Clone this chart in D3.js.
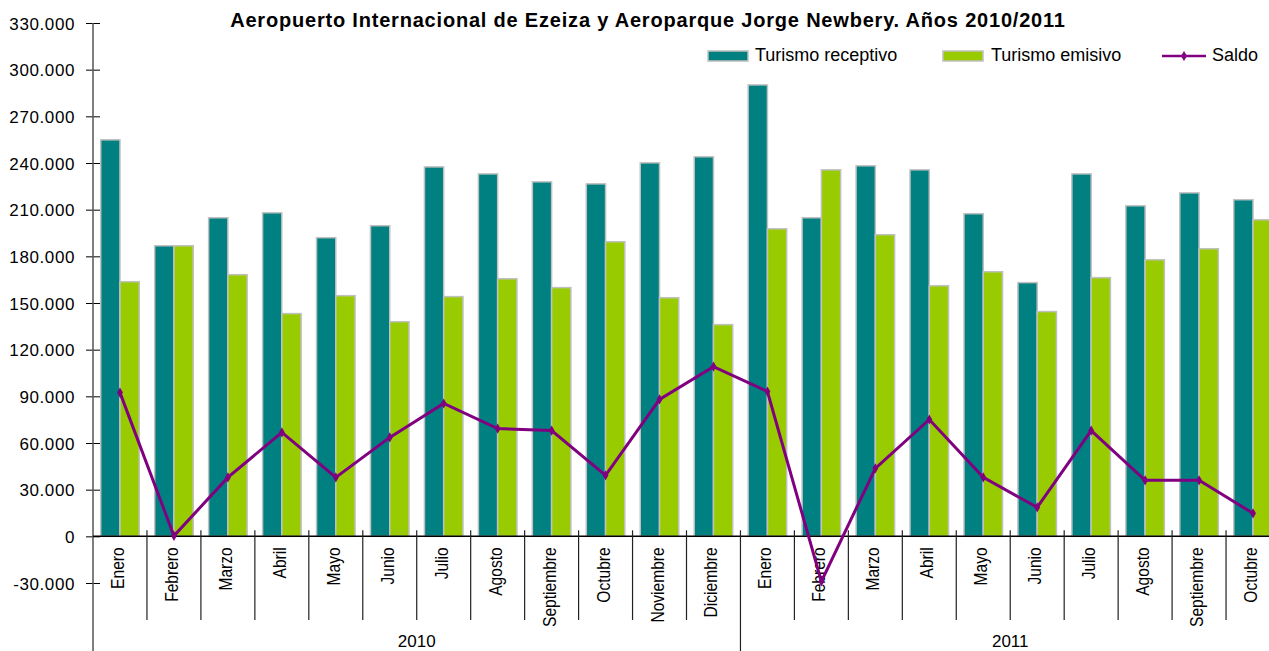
<!DOCTYPE html>
<html>
<head>
<meta charset="utf-8">
<script src="https://cdn.jsdelivr.net/npm/d3@7"></script>
<style>
  body { margin: 0; background: #fff; }
  text { font-family: "Liberation Sans", Arial, sans-serif; fill: #000; }
</style>
</head>
<body>
<svg id="main"></svg>
<script>
var meses = ["Enero","Febrero","Marzo","Abril","Mayo","Junio","Julio","Agosto","Septiembre","Octubre","Noviembre","Diciembre",
             "Enero","Febrero","Marzo","Abril","Mayo","Junio","Julio","Agosto","Septiembre","Octubre"];
var anios = ["2010","2011"];
var mesesPorAnio = [12, 10];
var receptivo = [254900,186800,204800,208000,192000,199700,237500,233000,227900,226600,240100,244000,
                 290200,204800,238200,235600,207400,163100,233000,212500,220800,216400];
var emisivo = [163700,186800,168200,143200,154700,138000,154100,165600,159900,189400,153400,136100,
               197700,235600,193900,161100,170100,144500,166300,177800,184900,203500];
var saldo = [92400,300,37900,66800,37900,63600,85400,69300,68000,39200,88000,109100,
             93100,-29000,43700,75100,37900,18600,68000,36000,36000,14800];
var yTicks = [-30000,0,30000,60000,90000,120000,150000,180000,210000,240000,270000,300000,330000];

var w = 1269, h = 651;
var padLeft = 93, padRight = 1280, padTop = 23, padBottom = 583;

var svg = d3.select("#main").attr("width", w).attr("height", h);

var es = d3.formatLocale({decimal: ",", thousands: ".", grouping: [3], currency: ["$", ""], minus: "-"});
var fmt = es.format(",.0f");

var x = d3.scaleBand()
  .domain(d3.range(meses.length))
  .range([padLeft, padRight]);

var xSub = d3.scaleBand()
  .domain(["rec", "emi"])
  .range([0, x.bandwidth()])
  .paddingOuter(0.4);

var y = d3.scaleLinear()
  .domain([-30000, 330000])
  .range([padBottom, padTop]);

// barras
var g = svg.append("g");
g.selectAll("rect.rec")
  .data(receptivo)
  .enter().append("rect")
  .attr("class", "rec")
  .attr("x", function(d, i) { return x(i) + xSub("rec"); })
  .attr("y", function(d) { return y(d); })
  .attr("width", xSub.bandwidth())
  .attr("height", function(d) { return y(0) - y(d); })
  .attr("fill", "#008080")
  .attr("stroke", "#c0c0c0")
  .attr("stroke-width", 1.5);

g.selectAll("rect.emi")
  .data(emisivo)
  .enter().append("rect")
  .attr("class", "emi")
  .attr("x", function(d, i) { return x(i) + xSub("emi"); })
  .attr("y", function(d) { return y(d); })
  .attr("width", xSub.bandwidth())
  .attr("height", function(d) { return y(0) - y(d); })
  .attr("fill", "#99cc00")
  .attr("stroke", "#c0c0c0")
  .attr("stroke-width", 1.5);

// eje y
var yAxis = d3.axisLeft(y)
  .tickValues(yTicks)
  .tickFormat(fmt)
  .tickSize(7)
  .tickPadding(11);

var yg = svg.append("g")
  .attr("transform", "translate(" + padLeft + ",0)")
  .call(yAxis);
yg.select(".domain").remove();
yg.selectAll(".tick line").attr("x2", -7).attr("x1", 7).attr("stroke", "#000");
yg.selectAll(".tick text")
  .style("font-size", "17px")
  .style("letter-spacing", "0.6px")
  .attr("dy", "0.36em");
svg.append("line")
  .attr("x1", padLeft).attr("x2", padLeft)
  .attr("y1", padTop).attr("y2", h)
  .attr("stroke", "#555").attr("stroke-width", 1.5);

// eje x
svg.append("line")
  .attr("x1", padLeft).attr("x2", w)
  .attr("y1", y(0)).attr("y2", y(0))
  .attr("stroke", "#000").attr("stroke-width", 1.5);

svg.selectAll("line.sep")
  .data(d3.range(1, meses.length))
  .enter().append("line")
  .attr("class", "sep")
  .attr("x1", function(i) { return x(i); })
  .attr("x2", function(i) { return x(i); })
  .attr("y1", y(0) - 6)
  .attr("y2", function(i) { return i === mesesPorAnio[0] ? h : 620; })
  .attr("stroke", "#222").attr("stroke-width", 1.2);

svg.selectAll("text.mes")
  .data(meses)
  .enter().append("text")
  .attr("class", "mes")
  .attr("transform", function(d, i) {
    return "translate(" + (x(i) + x.bandwidth() / 2 + 4) + "," + (y(0) + 11) + ") rotate(-90) scale(0.82,1)";
  })
  .attr("text-anchor", "end")
  .style("font-size", "19px")
  .text(function(d) { return d; });

var inicio = 0;
anios.forEach(function(a, k) {
  var fin = inicio + mesesPorAnio[k];
  svg.append("text")
    .attr("x", (x(inicio) + x(fin - 1) + x.bandwidth()) / 2)
    .attr("y", 647)
    .attr("text-anchor", "middle")
    .style("font-size", "17px")
    .text(a);
  inicio = fin;
});

// saldo
var line = d3.line()
  .x(function(d, i) { return x(i) + x.bandwidth() / 2; })
  .y(function(d) { return y(d); });

svg.append("path")
  .datum(saldo)
  .attr("d", line)
  .attr("fill", "none")
  .attr("stroke", "#800080")
  .attr("stroke-width", 3);

svg.selectAll("path.pt")
  .data(saldo)
  .enter().append("path")
  .attr("class", "pt")
  .attr("d", d3.symbol().type(d3.symbolDiamond).size(30))
  .attr("transform", function(d, i) { return "translate(" + (x(i) + x.bandwidth() / 2) + "," + y(d) + ")"; })
  .attr("fill", "#800080");

// titulo
svg.append("text")
  .attr("x", 648)
  .attr("y", 27)
  .attr("text-anchor", "middle")
  .style("font-size", "20px")
  .style("letter-spacing", "0.8px")
  .style("font-weight", "bold")
  .text("Aeropuerto Internacional de Ezeiza y Aeroparque Jorge Newbery. Años 2010/2011");

// leyenda
var leg = svg.append("g");
leg.append("rect").attr("x", 708).attr("y", 51).attr("width", 40).attr("height", 10)
  .attr("fill", "#008080").attr("stroke", "#c0c0c0").attr("stroke-width", 1.5);
leg.append("text").attr("x", 755).attr("y", 61).style("font-size", "18px").text("Turismo receptivo");
leg.append("rect").attr("x", 943).attr("y", 51).attr("width", 40).attr("height", 10)
  .attr("fill", "#99cc00").attr("stroke", "#c0c0c0").attr("stroke-width", 1.5);
leg.append("text").attr("x", 991).attr("y", 61).style("font-size", "18px").text("Turismo emisivo");
leg.append("line").attr("x1", 1162).attr("x2", 1206).attr("y1", 56).attr("y2", 56)
  .attr("stroke", "#800080").attr("stroke-width", 2.5);
leg.append("path").attr("d", d3.symbol().type(d3.symbolDiamond).size(30))
  .attr("transform", "translate(1184,56)").attr("fill", "#800080");
leg.append("text").attr("x", 1212).attr("y", 61).style("font-size", "18px").text("Saldo");
</script>
</body>
</html>
